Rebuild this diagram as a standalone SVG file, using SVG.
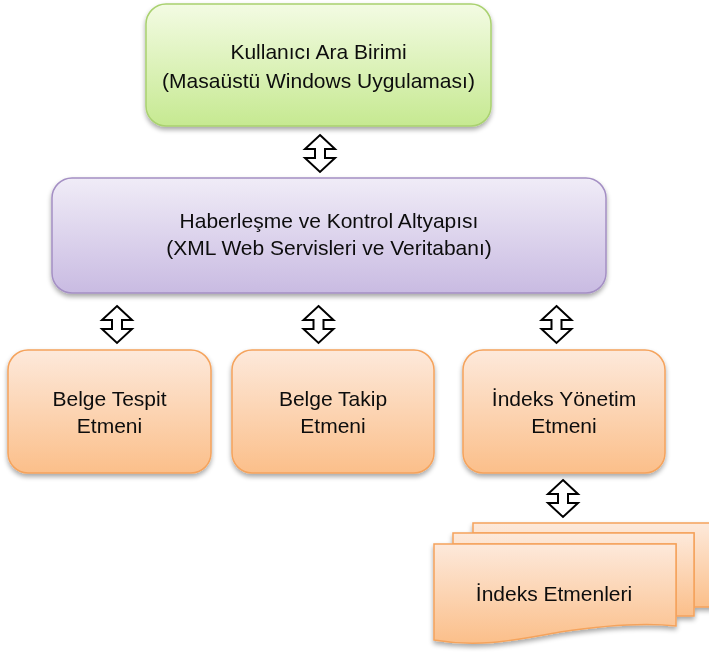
<svg xmlns="http://www.w3.org/2000/svg" xmlns:xlink="http://www.w3.org/1999/xlink" width="709" height="653" viewBox="0 0 709 653">
  <style>
    .label { font-family: "Liberation Sans", Arial, sans-serif; font-size: 21px; fill: #0d0d0d; text-anchor: middle; }
    .green { fill: url(#gGreen); stroke: #a9d16f; stroke-width: 1.5; }
    .purple { fill: url(#gPurple); stroke: #a48fc4; stroke-width: 1.5; }
    .orange { fill: url(#gOrange); stroke: #f5a35c; stroke-width: 1.5; }
    .node { filter: url(#shadow); }
    .arrow { fill: #ffffff; stroke: #000000; stroke-width: 2; stroke-linejoin: miter; }
  </style>
  <defs>
    <linearGradient id="gGreen" x1="0" y1="0" x2="0" y2="1">
      <stop offset="0" stop-color="#f3fbe3"/>
      <stop offset="1" stop-color="#c6e991"/>
    </linearGradient>
    <linearGradient id="gPurple" x1="0" y1="0" x2="0" y2="1">
      <stop offset="0" stop-color="#f0ecf7"/>
      <stop offset="1" stop-color="#c9bbe2"/>
    </linearGradient>
    <linearGradient id="gOrange" x1="0" y1="0" x2="0" y2="1">
      <stop offset="0" stop-color="#fde9db"/>
      <stop offset="1" stop-color="#fbbf8a"/>
    </linearGradient>
    <filter id="shadow" x="-10%" y="-10%" width="120%" height="130%">
      <feGaussianBlur in="SourceAlpha" stdDeviation="2.5"/>
      <feOffset dx="0" dy="3" result="b"/>
      <feComponentTransfer><feFuncA type="linear" slope="0.35"/></feComponentTransfer>
      <feMerge><feMergeNode/><feMergeNode in="SourceGraphic"/></feMerge>
    </filter>
    <!-- up/down double arrow, tip at origin -->
    <path id="dblArrow" d="M0,0 L15,14 L5,14 L5,23 L15,23 L0,37 L-15,23 L-5,23 L-5,14 L-15,14 Z"/>
  </defs>

  <g id="connectors">
    <use xlink:href="#dblArrow" class="arrow" transform="translate(320,135)"/>
    <use xlink:href="#dblArrow" class="arrow" transform="translate(117,306)"/>
    <use xlink:href="#dblArrow" class="arrow" transform="translate(318.5,306)"/>
    <use xlink:href="#dblArrow" class="arrow" transform="translate(556.5,306)"/>
    <use xlink:href="#dblArrow" class="arrow" transform="translate(563,480)"/>
  </g>

  <g id="ui" class="node">
    <rect class="green" x="146" y="4" width="345" height="122" rx="20" ry="20"/>
    <text class="label" x="318.5" y="59">Kullanıcı Ara Birimi</text>
    <text class="label" x="318.5" y="88">(Masaüstü Windows Uygulaması)</text>
  </g>

  <g id="comm" class="node">
    <rect class="purple" x="52" y="178" width="554" height="115" rx="20" ry="20"/>
    <text class="label" x="329" y="228">Haberleşme ve Kontrol Altyapısı</text>
    <text class="label" x="329" y="255">(XML Web Servisleri ve Veritabanı)</text>
  </g>

  <g id="detect" class="node">
    <rect class="orange" x="8" y="350" width="203" height="123" rx="20" ry="20"/>
    <text class="label" x="109.5" y="406">Belge Tespit</text>
    <text class="label" x="109.5" y="433">Etmeni</text>
  </g>

  <g id="track" class="node">
    <rect class="orange" x="232" y="350" width="202" height="123" rx="20" ry="20"/>
    <text class="label" x="333" y="406">Belge Takip</text>
    <text class="label" x="333" y="433">Etmeni</text>
  </g>

  <g id="index" class="node">
    <rect class="orange" x="463" y="350" width="202" height="123" rx="20" ry="20"/>
    <text class="label" x="564" y="406">İndeks Yönetim</text>
    <text class="label" x="564" y="433">Etmeni</text>
  </g>

  <g id="agents" class="node">
    <path class="orange" d="M473,523 H716 V607 H694 V533 H473 Z"/>
    <path class="orange" d="M453,533 H694 V616 H676 V544 H453 Z"/>
    <path class="orange" d="M434,544 H676 V626 C640,622 600,626 560,632 C515,640 480,648 434,640 Z"/>
    <text class="label" x="554" y="601">İndeks Etmenleri</text>
  </g>
</svg>
